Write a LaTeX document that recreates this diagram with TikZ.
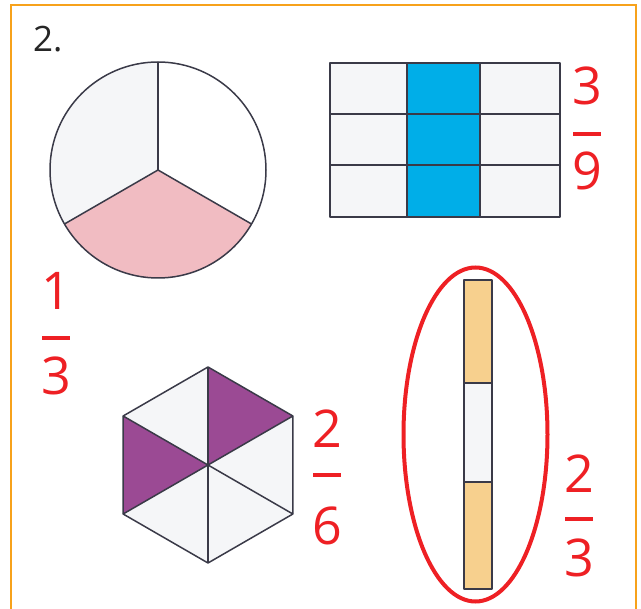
\documentclass[tikz,border=0pt]{standalone}
\usepackage{fontspec}
\setmainfont{Open Sans}
\usetikzlibrary{calc}
\definecolor{framec}{HTML}{F7A21B}
\definecolor{redc}{HTML}{EE2024}
\definecolor{edgec}{HTML}{3A3A48}
\definecolor{paleg}{HTML}{F5F6F8}
\definecolor{pinkc}{HTML}{F1BCC2}
\definecolor{bluec}{HTML}{00AEE8}
\definecolor{purplec}{HTML}{9B4A94}
\definecolor{sandc}{HTML}{F7D08E}

\begin{document}
\begin{tikzpicture}[x=1pt, y=-1pt,
  digit/.style={text=redc, font=\fontsize{52}{52}\selectfont, anchor=base, inner sep=0pt},
  fracbar/.style={redc, line width=4pt},
  part/.style={draw=edgec, line width=1.5pt, line join=round}]
\useasboundingbox (0,0) rectangle (641,609);
\draw[framec, line width=1.6pt] (11,609) -- (11,5) -- (636,5) -- (636,609);
\node[anchor=base west, inner sep=0pt, text=black!85, font=\fontsize{35}{35}\selectfont] (num) at (33,52) {2.};
% circle in thirds
\coordinate (c) at (158,170);
\fill[paleg] (c) -- ++(150:108) arc[start angle=150, end angle=270, radius=108] -- cycle;
\fill[pinkc] (c) -- ++(30:108) arc[start angle=30, end angle=150, radius=108] -- cycle;
\draw[part] (c) circle (108);
\foreach \a in {30,150,270} \draw[part] (c) -- ++(\a:108);
\node[digit] (n1) at (56,310) {1};
\draw[fracbar] (42,338) -- (70,338);
\node[digit] (d1) at (56,395) {3};
% grid 3 by 3
\fill[paleg] (330,63) rectangle (560,217);
\fill[bluec] (407,63) rectangle (480,217);
\draw[part] (330,63) rectangle (560,217);
\foreach \gx in {407,480} \draw[part] (\gx,63) -- (\gx,217);
\foreach \gy in {114,165} \draw[part] (330,\gy) -- (560,\gy);
\node[digit] (n2) at (587,105) {3};
\draw[fracbar] (573,134) -- (601,134);
\node[digit] (d2) at (587,190) {9};
% hexagon in sixths
\coordinate (h) at (208,465);
\foreach \a in {30,90,...,330} \coordinate (v\a) at ($(h)+(\a:98)$);
\fill[paleg] (v30) -- (v90) -- (v150) -- (v210) -- (v270) -- (v330) -- cycle;
\fill[purplec] (h) -- (v270) -- (v330) -- cycle;
\fill[purplec] (h) -- (v150) -- (v210) -- cycle;
\draw[part] (v30) -- (v90) -- (v150) -- (v210) -- (v270) -- (v330) -- cycle;
\foreach \a in {30,90,...,330} \draw[part] (h) -- (v\a);
\node[digit] (n3) at (327,448) {2};
\draw[fracbar] (313,475) -- (341,475);
\node[digit] (d3) at (327,545) {6};
% strip in thirds
\fill[sandc] (464,280) rectangle (492,383);
\fill[paleg] (464,383) rectangle (492,482);
\fill[sandc] (464,482) rectangle (492,589);
\draw[part] (464,280) rectangle (492,589);
\draw[part] (464,383) -- (492,383);
\draw[part] (464,482) -- (492,482);
\draw[redc, line width=4pt] (475.5,434.5) ellipse [x radius=72, y radius=167];
\node[digit] (n4) at (579,493) {2};
\draw[fracbar] (565,519) -- (593,519);
\node[digit] (d4) at (579,577) {3};
\end{tikzpicture}
\end{document}
